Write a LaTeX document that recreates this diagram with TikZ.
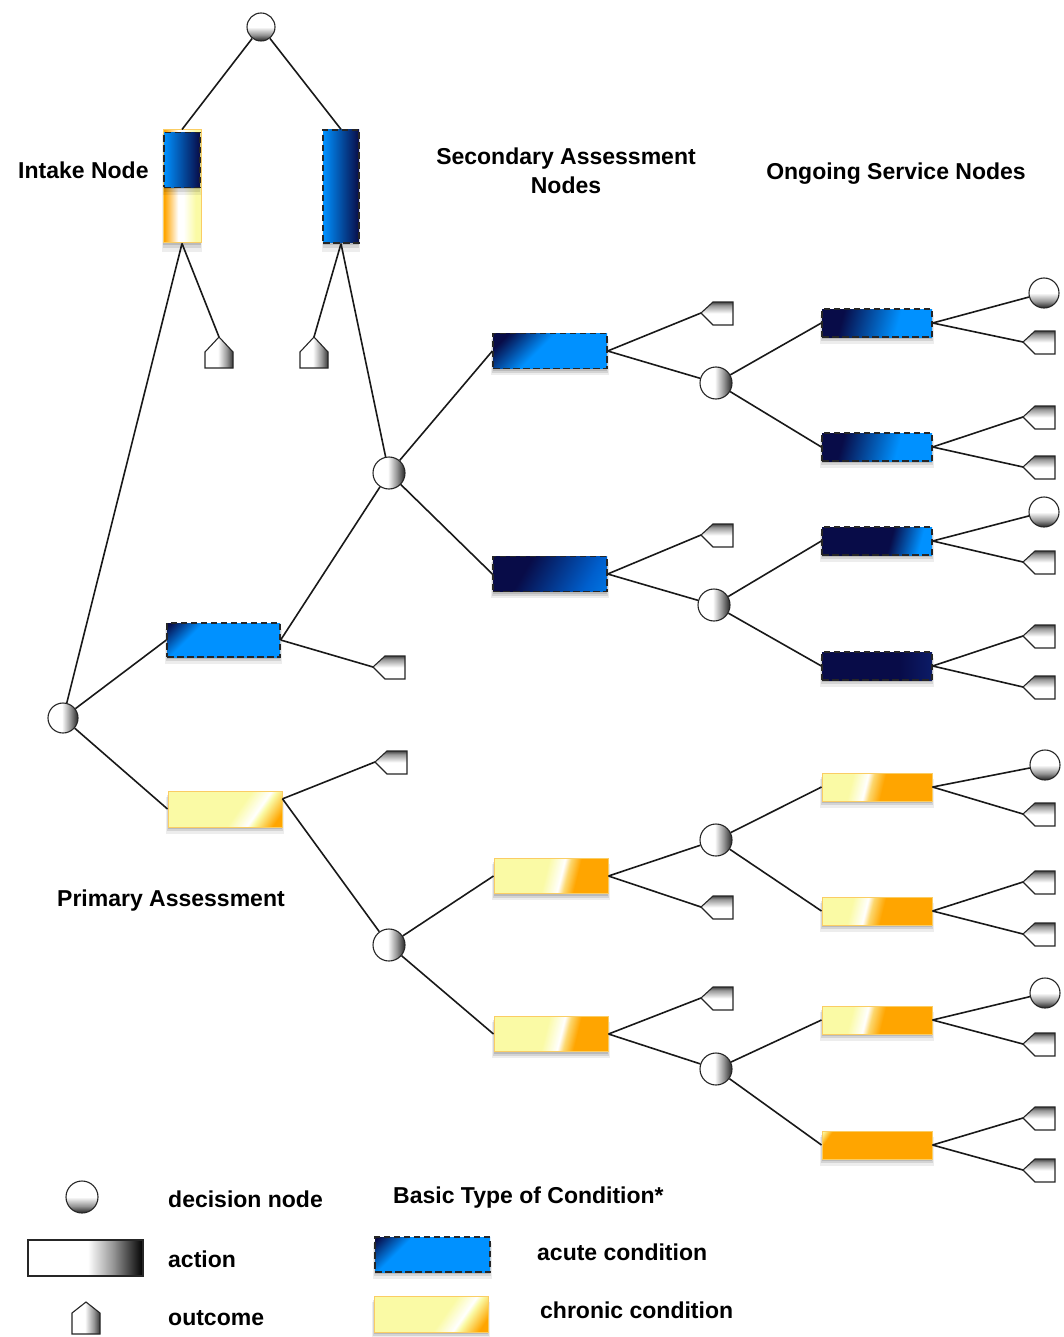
\documentclass[tikz,border=0pt]{standalone}
\usepackage{fontspec}
\setmainfont{Liberation Sans}
\usetikzlibrary{shadows}

\definecolor{navy}{RGB}{8,12,72}
\definecolor{skyb}{RGB}{0,145,255}
\definecolor{midb}{RGB}{0,95,205}
\definecolor{navyl}{RGB}{12,28,105}
\definecolor{paley}{RGB}{250,250,165}
\definecolor{orng}{RGB}{255,165,0}
\definecolor{orngl}{RGB}{252,215,110}
\definecolor{chrbord}{RGB}{250,205,100}
\definecolor{dkg}{RGB}{55,55,55}
\definecolor{mdg}{RGB}{150,150,150}

% decision node shadings
\pgfdeclareverticalshading{decV}{100bp}{color(0bp)=(dkg); color(27bp)=(dkg); color(36bp)=(mdg); color(50bp)=(white); color(100bp)=(white)}
\pgfdeclarehorizontalshading{decH}{100bp}{color(0bp)=(white); color(48bp)=(white); color(62bp)=(mdg); color(73bp)=(dkg); color(100bp)=(dkg)}
% outcome shadings
\pgfdeclareverticalshading{outL}{100bp}{color(0bp)=(white); color(50bp)=(white); color(68bp)=(mdg); color(76bp)=(dkg); color(100bp)=(dkg)}
\pgfdeclarehorizontalshading{outU}{100bp}{color(0bp)=(white); color(48bp)=(white); color(64bp)=(mdg); color(75bp)=(dkg); color(100bp)=(dkg)}
% action legend
\pgfdeclarehorizontalshading{actS}{100bp}{color(0bp)=(white); color(51bp)=(white); color(62bp)=(mdg); color(75bp)=(black); color(100bp)=(black)}
% acute shadings
\pgfdeclarehorizontalshading{acA}{100bp}{color(0bp)=(navy); color(16bp)=(navy); color(32bp)=(skyb); color(100bp)=(skyb)}
\pgfdeclarehorizontalshading{acB}{100bp}{color(0bp)=(navy); color(22bp)=(navy); color(44bp)=(skyb); color(100bp)=(skyb)}
\pgfdeclarehorizontalshading{acC}{100bp}{color(0bp)=(navy); color(36bp)=(navy); color(72bp)=(midb); color(100bp)=(skyb)}
\pgfdeclarehorizontalshading{acG}{100bp}{color(0bp)=(navy); color(31bp)=(navy); color(61bp)=(skyb); color(100bp)=(skyb)}
\pgfdeclarehorizontalshading{acG3}{100bp}{color(0bp)=(navy); color(57bp)=(navy); color(73bp)=(skyb); color(100bp)=(skyb)}
\pgfdeclarehorizontalshading{acG4}{100bp}{color(0bp)=(navy); color(60bp)=(navy); color(76bp)=(navyl); color(100bp)=(navyl)}
\pgfdeclarehorizontalshading{acT}{100bp}{color(0bp)=(skyb); color(25bp)=(skyb); color(75bp)=(navy); color(100bp)=(navy)}
% chronic shadings
\pgfdeclarehorizontalshading{chP}{100bp}{color(0bp)=(paley); color(57bp)=(paley); color(67bp)=(white); color(70bp)=(paley); color(80bp)=(orng); color(100bp)=(orng)}
\pgfdeclarehorizontalshading{chS}{100bp}{color(0bp)=(paley); color(47bp)=(paley); color(55bp)=(white); color(58bp)=(orngl); color(63bp)=(orng); color(100bp)=(orng)}
\pgfdeclarehorizontalshading{chG}{100bp}{color(0bp)=(paley); color(36bp)=(paley); color(44bp)=(white); color(47bp)=(orngl); color(53bp)=(orng); color(100bp)=(orng)}
\pgfdeclarehorizontalshading{chO}{100bp}{color(0bp)=(white); color(16bp)=(paley); color(21bp)=(orng); color(100bp)=(orng)}
\pgfdeclarehorizontalshading{chI}{100bp}{color(0bp)=(orng); color(27bp)=(orng); color(45bp)=(white); color(52bp)=(white); color(68bp)=(paley); color(100bp)=(paley)}

\newcommand\drawOutL[1]{\shade[outc, shading=outL] (#1) -- ++(12,-11) -- ++(20,0) -- ++(0,23) -- ++(-20,0) -- cycle;}
\newcommand\drawOutU[1]{\shade[outc, shading=outU] (#1) -- ++(14,15) -- ++(0,16) -- ++(-28,0) -- ++(0,-16) -- cycle;}

\begin{document}
\begin{tikzpicture}[x=1pt,y=-1pt,
  conn/.style={line width=1.6pt, black!90},
  decv/.style={circle, minimum size=30pt, inner sep=0pt, draw=black!85, line width=1.1pt, shade, shading=decV},
  dech/.style={circle, minimum size=32pt, inner sep=0pt, draw=black!85, line width=1.1pt, shade, shading=decH},
  sh/.style={drop shadow={shadow xshift=0pt, shadow yshift=-2pt, opacity=.12, fill=black, draw=none},
             drop shadow={shadow xshift=0pt, shadow yshift=-4pt, shadow scale=1.02, opacity=.1, fill=black, draw=none},
             drop shadow={shadow xshift=0pt, shadow yshift=-6pt, shadow scale=1.04, opacity=.07, fill=black, draw=none}},
  acute/.style={rectangle, inner sep=0pt, draw=black!85, line width=1.3pt, dash pattern=on 6.5pt off 3.5pt, shade, sh},
  chronic/.style={rectangle, inner sep=0pt, draw=chrbord, line width=1pt, shade, sh},
  secbox/.style={minimum width=114pt, minimum height=35pt},
  ongbox/.style={minimum width=110pt, minimum height=28pt},
  outc/.style={draw=black!85, line width=1.1pt, line join=miter},
  lbl/.style={font=\bfseries\fontsize{23}{29}\selectfont, inner sep=0pt},
]
\fill[white] (0,0) rectangle (1064,1337);
\useasboundingbox (0,0) rectangle (1064,1337);

% ---------- top ----------
\node[decv, minimum size=28pt] (top) at (261,27) {};
\node[chronic, minimum width=38pt, minimum height=113pt, shading=chI] (intake) at (182,186.5) {};
\node[acute, minimum width=36pt, minimum height=55pt, shading=acT, sh/.style={}] (intakeA) at (182,160) {};
\node[acute, minimum width=36pt, minimum height=113pt, shading=acT] (topB) at (341,186.5) {};

% ---------- primary ----------
\node[dech, minimum size=30pt] (D1) at (63,718) {};
\node[acute, minimum width=113pt, minimum height=34pt, shading=acA, shading angle=-45] (P1) at (223.5,640) {};
\node[chronic, minimum width=114pt, minimum height=36pt, shading=chP, shading angle=-35] (P2) at (225,809) {};
\node[dech] (D2) at (389,473) {};
\node[dech] (D3) at (389,945) {};

% ---------- secondary ----------
\node[acute, secbox, shading=acB, shading angle=-45] (S1) at (550,351) {};
\node[acute, secbox, shading=acC, shading angle=-30] (S2) at (550,574) {};
\node[chronic, secbox, shading=chS, shading angle=-14] (S3) at (551,876) {};
\node[chronic, secbox, shading=chS, shading angle=-14] (S4) at (551,1034) {};
\node[dech] (D4) at (716,383) {};
\node[dech] (D5) at (714,605) {};
\node[dech] (D6) at (716,840) {};
\node[dech] (D7) at (716,1069) {};

% ---------- ongoing ----------
\node[acute, ongbox, shading=acG, shading angle=-15] (G1) at (877,323) {};
\node[acute, ongbox, shading=acG, shading angle=-15] (G2) at (877,447) {};
\node[acute, ongbox, shading=acG3, shading angle=-15] (G3) at (877,541) {};
\node[acute, ongbox, shading=acG4] (G4) at (877,666) {};
\node[chronic, ongbox, shading=chG, shading angle=-14] (G5) at (877,787) {};
\node[chronic, ongbox, shading=chG, shading angle=-14] (G6) at (877,911) {};
\node[chronic, ongbox, shading=chG, shading angle=-14] (G7) at (877,1020) {};
\node[chronic, ongbox, shading=chO, shading angle=-35] (G8) at (877,1145) {};

\node[decv] (T1) at (1044,293) {};
\node[decv] (T3) at (1044,512) {};
\node[decv] (T5) at (1045,765) {};
\node[decv] (T7) at (1045,993) {};

% ---------- outcome coordinates ----------
\coordinate (oU1) at (219,337);
\coordinate (oU2) at (314,337);
\coordinate (oP1) at (373,667);
\coordinate (oP2) at (375,762);
\coordinate (oS1) at (701,313);
\coordinate (oS2) at (701,535);
\coordinate (oS3) at (701,907);
\coordinate (oS4) at (701,998);
\coordinate (oG1) at (1023,342);
\coordinate (oG2a) at (1023,417);
\coordinate (oG2b) at (1023,467);
\coordinate (oG3) at (1023,562);
\coordinate (oG4a) at (1023,636);
\coordinate (oG4b) at (1023,687);
\coordinate (oG5) at (1023,814);
\coordinate (oG6a) at (1023,882);
\coordinate (oG6b) at (1023,934);
\coordinate (oG7) at (1023,1044);
\coordinate (oG8a) at (1023,1118);
\coordinate (oG8b) at (1023,1170);

% ---------- connectors ----------
\draw[conn] (top) -- (intake.north);
\draw[conn] (top) -- (topB.north);
\draw[conn] (intake.south) -- (oU1);
\draw[conn] (intake.south) -- (D1);
\draw[conn] (topB.south) -- (oU2);
\draw[conn] (topB.south) -- (D2);
\draw[conn] (D1) -- (P1.west);
\draw[conn] (D1) -- (P2.west);
\draw[conn] (P1.east) -- (D2);
\draw[conn] (P1.east) -- (oP1);
\draw[conn] (P2.10) -- (oP2);
\draw[conn] (P2.10) -- (D3);
\draw[conn] (D2) -- (S1.west);
\draw[conn] (D2) -- (S2.west);
\draw[conn] (D3) -- (S3.west);
\draw[conn] (D3) -- (S4.west);
\draw[conn] (S1.east) -- (oS1);
\draw[conn] (S1.east) -- (D4);
\draw[conn] (S2.east) -- (oS2);
\draw[conn] (S2.east) -- (D5);
\draw[conn] (S3.east) -- (D6);
\draw[conn] (S3.east) -- (oS3);
\draw[conn] (S4.east) -- (oS4);
\draw[conn] (S4.east) -- (D7);
\draw[conn] (D4) -- (G1.west);
\draw[conn] (D4) -- (G2.west);
\draw[conn] (D5) -- (G3.west);
\draw[conn] (D5) -- (G4.west);
\draw[conn] (D6) -- (G5.west);
\draw[conn] (D6) -- (G6.west);
\draw[conn] (D7) -- (G7.west);
\draw[conn] (D7) -- (G8.west);
\draw[conn] (G1.east) -- (T1);
\draw[conn] (G1.east) -- (oG1);
\draw[conn] (G2.east) -- (oG2a);
\draw[conn] (G2.east) -- (oG2b);
\draw[conn] (G3.east) -- (T3);
\draw[conn] (G3.east) -- (oG3);
\draw[conn] (G4.east) -- (oG4a);
\draw[conn] (G4.east) -- (oG4b);
\draw[conn] (G5.east) -- (T5);
\draw[conn] (G5.east) -- (oG5);
\draw[conn] (G6.east) -- (oG6a);
\draw[conn] (G6.east) -- (oG6b);
\draw[conn] (G7.east) -- (T7);
\draw[conn] (G7.east) -- (oG7);
\draw[conn] (G8.east) -- (oG8a);
\draw[conn] (G8.east) -- (oG8b);

% ---------- outcome shapes ----------
\drawOutU{oU1}
\drawOutU{oU2}
\drawOutL{oP1}
\drawOutL{oP2}
\drawOutL{oS1}
\drawOutL{oS2}
\drawOutL{oS3}
\drawOutL{oS4}
\drawOutL{oG1}
\drawOutL{oG2a}
\drawOutL{oG2b}
\drawOutL{oG3}
\drawOutL{oG4a}
\drawOutL{oG4b}
\drawOutL{oG5}
\drawOutL{oG6a}
\drawOutL{oG6b}
\drawOutL{oG7}
\drawOutL{oG8a}
\drawOutL{oG8b}

% ---------- labels ----------
\node[lbl, anchor=base west] (lIntake) at (18,179) {Intake Node};
\node[lbl, align=center] (lSec) at (566,171) {Secondary Assessment\\Nodes};
\node[lbl, anchor=base] (lOng) at (896,180) {Ongoing Service Nodes};
\node[lbl, anchor=base west] (lPrim) at (57,906) {Primary Assessment};

% ---------- legend ----------
\node[decv, minimum size=32pt] (legDec) at (82,1197) {};
\node[rectangle, minimum width=115pt, minimum height=36pt, inner sep=0pt, draw=black!85, line width=1.1pt, shade, shading=actS] (legAct) at (85.5,1258) {};
\coordinate (legOut) at (86,1302);
\shade[outc, shading=outU] (legOut) -- ++(14,11) -- ++(0,21) -- ++(-28,0) -- ++(0,-21) -- cycle;
\node[lbl, anchor=base west] (tDec) at (168,1207) {decision node};
\node[lbl, anchor=base west] (tAct) at (168,1267) {action};
\node[lbl, anchor=base west] (tOut) at (168,1325) {outcome};

\node[lbl, anchor=base west] (tBasic) at (393,1203) {Basic Type of Condition*};
\node[acute, minimum width=115pt, minimum height=35pt, shading=acA, shading angle=-45] (legAcute) at (432.5,1254.5) {};
\node[chronic, minimum width=114pt, minimum height=36pt, shading=chP, shading angle=-35] (legChronic) at (431,1314) {};
\node[lbl, anchor=base west] (tAcute) at (537,1260) {acute condition};
\node[lbl, anchor=base west] (tChronic) at (540,1318) {chronic condition};
\end{tikzpicture}
\end{document}
